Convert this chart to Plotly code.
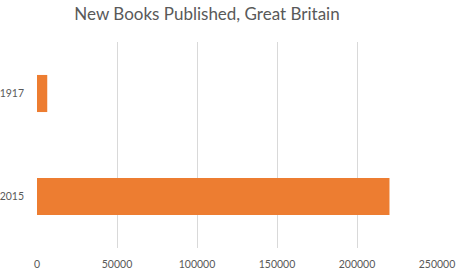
import plotly.graph_objects as go

categories = ["2015", "1917"]
books = [220300, 6400]
x_ticks = [0, 50000, 100000, 150000, 200000, 250000]
x_tick_labels = ["0", "50000", "100000", "150000", "200000", "250000"]
title_text = "New Books Published, Great Britain"

fig = go.Figure(go.Bar(
    y=categories, x=books, orientation="h",
    marker=dict(color="#ED7D31", line=dict(width=0)),
    width=0.36,
))

fig.update_layout(
    width=458, height=271,
    margin=dict(l=37, r=21, t=42, b=23),
    paper_bgcolor="white", plot_bgcolor="white",
    font=dict(family="Lato, 'Open Sans', sans-serif", color="#595959", size=10),
    title=dict(text=title_text, x=207/458, xref="container", xanchor="center",
               y=1 - 14/271, yref="container", yanchor="middle",
               font=dict(size=17, color="#595959")),
    showlegend=False,
)
fig.update_xaxes(range=[0, 250000], tickvals=x_ticks, ticktext=x_tick_labels,
                 showgrid=True, gridcolor="#D9D9D9", gridwidth=1,
                 zeroline=False, showline=False, ticks="", ticklabelstandoff=8,
                 automargin=False, tickfont=dict(size=10.5))
fig.update_yaxes(showgrid=False, zeroline=False, showline=False, ticks="",
                 ticklabelstandoff=12, automargin=False, tickfont=dict(size=10.5))

fig.write_html("out.html")
